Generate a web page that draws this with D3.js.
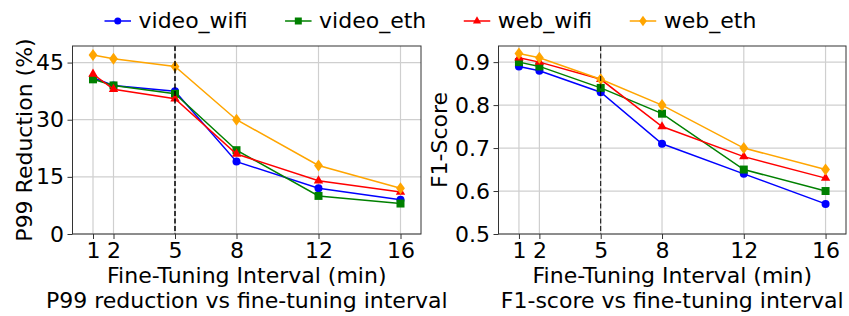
<!DOCTYPE html>
<html>
<head>
<meta charset="utf-8">
<script src="https://cdn.jsdelivr.net/npm/d3@7"></script>
<style>
  body { margin: 0; background: #fff; }
  svg { display: block; font-family: "DejaVu Sans", sans-serif; }
</style>
</head>
<body>
<div id="chart"></div>
<script>
// intervals (min)
const intervals = [1, 2, 5, 8, 12, 16];
const seriesNames = ["video_wifi", "video_eth", "web_wifi", "web_eth"];
const seriesColors = ["#0000ff", "#008000", "#ff0000", "#ffa500"];
const seriesMarkers = ["circle", "square", "triangle", "diamond"];

// P99 reduction (%)
const p99VideoWifi = [41, 39, 37.5, 19, 12, 9];
const p99VideoEth = [40.6, 39, 36.8, 22, 10, 8];
const p99WebWifi = [42, 38, 35.5, 21, 14, 11];
const p99WebEth = [47, 46, 44, 30, 18, 12];

// F1-score
const f1VideoWifi = [0.89, 0.88, 0.83, 0.71, 0.64, 0.57];
const f1VideoEth = [0.90, 0.89, 0.84, 0.78, 0.65, 0.60];
const f1WebWifi = [0.91, 0.90, 0.86, 0.75, 0.68, 0.63];
const f1WebEth = [0.92, 0.91, 0.86, 0.80, 0.70, 0.65];

const p99Ticks = [0, 15, 30, 45];
const f1Ticks = [0.5, 0.6, 0.7, 0.8, 0.9];

const W = 849, H = 316;
const FS = 22;
const svg = d3.select("#chart").append("svg").attr("width", W).attr("height", H);

const markerSym = {
  circle: d3.symbolCircle, square: d3.symbolSquare,
  triangle: d3.symbolTriangle, diamond: d3.symbolDiamond
};

function drawMarker(g, type, x, y, color, s) {
  if (type === "diamond") {
    // thin diamond like matplotlib 'd'
    const w = s * 0.55, h = s * 0.75;
    g.append("path")
      .attr("d", `M${x},${y - h}L${x + w},${y}L${x},${y + h}L${x - w},${y}Z`)
      .attr("fill", color);
  } else {
    const area = type === "circle" ? Math.PI * (s / 2) * (s / 2)
      : type === "square" ? s * s : s * s * 0.6;
    g.append("path")
      .attr("d", d3.symbol().type(markerSym[type]).size(area)())
      .attr("transform", `translate(${x},${y})`)
      .attr("fill", color);
  }
}

function panel(opts) {
  const g = svg.append("g");
  const x = d3.scaleLinear().domain([0, 17]).range([opts.left, opts.right]);
  const y = d3.scaleLinear().domain(opts.ydomain).range([opts.bottom, opts.top]);

  // grid
  g.append("g").selectAll("line").data(intervals).enter().append("line")
    .attr("x1", d => x(d)).attr("x2", d => x(d))
    .attr("y1", opts.top).attr("y2", opts.bottom)
    .attr("stroke", "#cfcfcf").attr("stroke-width", 1.2);
  g.append("g").selectAll("line").data(opts.yticks).enter().append("line")
    .attr("x1", opts.left).attr("x2", opts.right)
    .attr("y1", d => y(d)).attr("y2", d => y(d))
    .attr("stroke", "#cfcfcf").attr("stroke-width", 1.2);

  // series
  opts.data.forEach((vals, i) => {
    const line = d3.line().x((d, j) => x(intervals[j])).y(d => y(d));
    g.append("path").attr("d", line(vals))
      .attr("fill", "none").attr("stroke", seriesColors[i]).attr("stroke-width", 1.5);
    const mg = g.append("g");
    vals.forEach((v, j) => drawMarker(mg, seriesMarkers[i], x(intervals[j]), y(v), seriesColors[i], 8));
  });

  // dashed line at 5
  g.append("line")
    .attr("x1", x(5)).attr("x2", x(5)).attr("y1", opts.top).attr("y2", opts.bottom)
    .attr("stroke", "#000").attr("stroke-width", opts.dashW).attr("stroke-dasharray", "5,2.5");

  // frame
  g.append("rect")
    .attr("x", opts.left).attr("y", opts.top)
    .attr("width", opts.right - opts.left).attr("height", opts.bottom - opts.top)
    .attr("fill", "none").attr("stroke", "#333").attr("stroke-width", 1);

  // axes
  const xAxis = d3.axisBottom(x).tickValues(intervals).tickSize(5).tickPadding(3.5);
  const yAxis = d3.axisLeft(y).tickValues(opts.yticks).tickSize(5).tickPadding(3.5)
    .tickFormat(opts.fmt);
  const gx = g.append("g").attr("transform", `translate(0,${opts.bottom})`).call(xAxis);
  const gy = g.append("g").attr("transform", `translate(${opts.left},0)`).call(yAxis);
  [gx, gy].forEach(a => {
    a.select(".domain").remove();
    a.selectAll(".tick line").attr("stroke", "#333");
    a.selectAll("text").attr("font-size", FS).attr("fill", "#000")
      .attr("font-family", "DejaVu Sans");
  });

  const cx = (opts.left + opts.right) / 2;
  g.append("text").attr("x", cx).attr("y", 283).attr("text-anchor", "middle")
    .attr("font-size", FS).text("Fine-Tuning Interval (min)");
  g.append("text").attr("x", cx).attr("y", 308).attr("text-anchor", "middle")
    .attr("font-size", FS).text(opts.title);
  g.append("text")
    .attr("transform", `translate(${opts.ylabelX},${(opts.top + opts.bottom) / 2}) rotate(-90)`)
    .attr("text-anchor", "middle").attr("font-size", FS).text(opts.ylabel);
}

panel({
  left: 72.5, right: 421, top: 46, bottom: 234,
  ydomain: [0, 49.35], yticks: p99Ticks, fmt: d3.format("d"),
  data: [p99VideoWifi, p99VideoEth, p99WebWifi, p99WebEth],
  ylabel: "P99 Reduction (%)", ylabelX: 32,
  title: "P99 reduction vs fine-tuning interval", dashW: 1.5
});

panel({
  left: 498.5, right: 846, top: 46, bottom: 234,
  ydomain: [0.5, 0.9375], yticks: f1Ticks, fmt: d3.format(".1f"),
  data: [f1VideoWifi, f1VideoEth, f1WebWifi, f1WebEth],
  ylabel: "F1-Score", ylabelX: 447,
  title: "F1-score vs fine-tuning interval", dashW: 1
});

// legend
const leg = svg.append("g");
let lx = 104.5;
const ly = 21;
seriesNames.forEach((name, i) => {
  leg.append("line").attr("x1", lx).attr("x2", lx + 26.5).attr("y1", ly).attr("y2", ly)
    .attr("stroke", seriesColors[i]).attr("stroke-width", 1.5);
  drawMarker(leg, seriesMarkers[i], lx + 13.25, ly, seriesColors[i], 7);
  const t = leg.append("text").attr("x", lx + 34).attr("y", 28.3)
    .attr("font-size", FS).text(name);
  lx += 34 + t.node().getComputedTextLength() + 37.5;
});
</script>
</body>
</html>
